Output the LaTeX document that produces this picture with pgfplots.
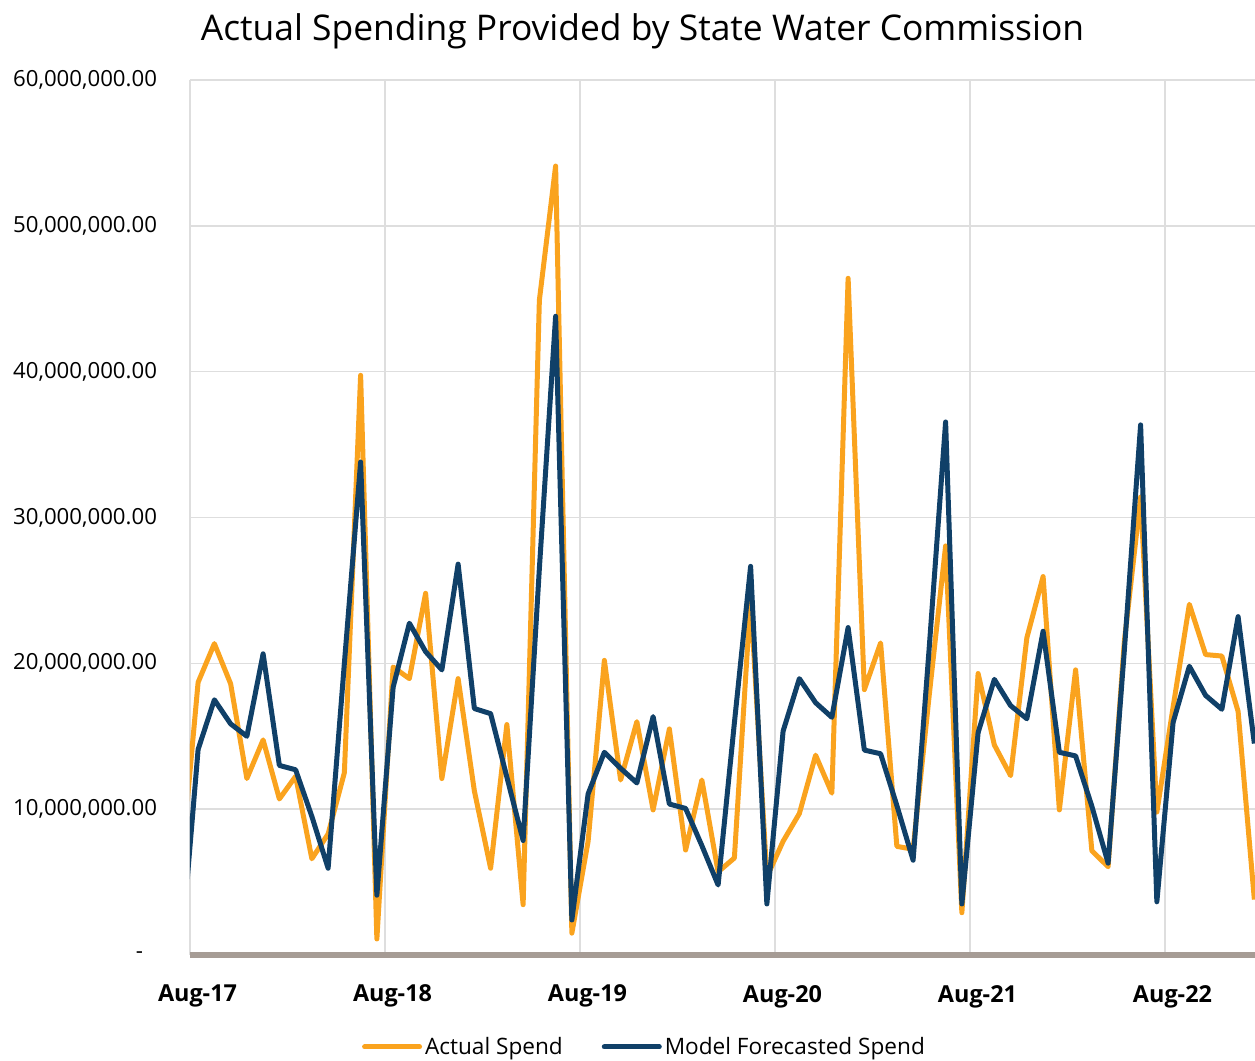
\documentclass[border=0pt]{standalone}
\usepackage{pgfplots}
\pgfplotsset{compat=1.18}
\usepackage{pgfplotstable}
\usetikzlibrary{calc}
\usepackage{fontspec}
\setmainfont{Open Sans}
\definecolor{orangeS}{RGB}{250,163,30}
\definecolor{navyS}{RGB}{16,64,104}
\definecolor{gridc}{RGB}{222,222,222}
\definecolor{basec}{RGB}{166,156,149}

% values in millions; k = months since Aug-17
\pgfplotstableread{
k actual model
-1 6.5 0.8
0 18.7 14.1
1 21.35 17.5
2 18.6 15.85
3 12.1 15.0
4 14.75 20.65
5 10.7 13.0
6 12.25 12.7
7 6.6 9.5
8 8.3 5.95
9 12.5 20.0
10 39.75 33.8
11 1.1 4.1
12 19.75 18.35
13 18.95 22.75
14 24.8 20.8
15 12.1 19.55
16 18.95 26.8
17 11.25 16.9
18 5.95 16.55
19 15.8 12.2
20 3.45 7.85
21 44.9 26.5
22 54.1 43.8
23 1.5 2.4
24 7.8 11.05
25 20.2 13.9
26 12.0 12.8
27 16.0 11.8
28 9.95 16.35
29 15.5 10.35
30 7.2 10.05
31 12.0 7.5
32 5.7 4.8
33 6.65 15.9
34 24.5 26.65
35 5.35 3.5
36 7.8 15.35
37 9.7 18.95
38 13.7 17.3
39 11.1 16.3
40 46.4 22.45
41 18.2 14.05
42 21.4 13.8
43 7.45 10.25
44 7.25 6.5
45 17.9 21.2
46 28.05 36.55
47 2.9 3.5
48 19.3 15.25
49 14.4 18.9
50 12.3 17.1
51 21.75 16.2
52 25.95 22.2
53 9.95 13.9
54 19.55 13.65
55 7.15 10.2
56 6.05 6.3
57 21.5 20.9
58 31.4 36.35
59 9.8 3.65
60 17.0 15.95
61 24.05 19.8
62 20.6 17.8
63 20.5 16.85
64 16.7 23.2
65 3.8 14.5
}\spend

\begin{document}
\begin{tikzpicture}
\useasboundingbox (-95pt,-53pt) rectangle (532.5pt,477.5pt);
\begin{axis}[
  name=ax,
  at={(0,0)}, anchor=south west,
  scale only axis, width=532.5pt, height=437.5pt,
  xmin=-0.5, xmax=65.04, ymin=0, ymax=60,
  axis line style={draw=none},
  xtick={-0.5,11.5,23.5,35.5,47.5,59.5},
  xticklabels={Aug-17,Aug-18,Aug-19,Aug-20,Aug-21,Aug-22},
  ytick={0,10,20,30,40,50,60},
  yticklabels={{-\rule{7pt}{0pt}},{10,000,000.00},{20,000,000.00},{30,000,000.00},{40,000,000.00},{50,000,000.00},{60,000,000.00}},
  major tick length=0pt,
  grid=major,
  major grid style={gridc, line width=0.8pt},
  xticklabel style={font=\bfseries\fontsize{11.7}{13}\selectfont, yshift=-11.5pt, xshift=3.75pt},
  yticklabel style={font=\fontsize{11.1}{13}\selectfont, xshift=-13pt},
  legend style={at={(0.4272,-0.1051)}, anchor=center, draw=none, fill=none,
    legend columns=-1, font=\fontsize{11.3}{13}\selectfont,
    /tikz/every even column/.append style={column sep=18pt},
    nodes={inner sep=1.5pt}},
  legend image code/.code={\draw[#1, line cap=round] (0pt,0pt) -- (27.5pt,0pt);},
]
\addplot[orangeS, line width=2.5pt, line join=round] table[x=k,y=actual]{\spend};
\addlegendentry{Actual Spend}
\addplot[navyS, line width=2.5pt, line join=round] table[x=k,y=model]{\spend};
\addlegendentry{Model Forecasted Spend}
\end{axis}
\draw[basec, line width=3pt] (ax.south west) -- (ax.south east);
\node[anchor=base, font=\fontsize{17.7}{20}\selectfont] at ($(ax.north west)!0.4249!(ax.north east)+(0,20pt)$) {Actual Spending Provided by State Water Commission};
\end{tikzpicture}
\end{document}
